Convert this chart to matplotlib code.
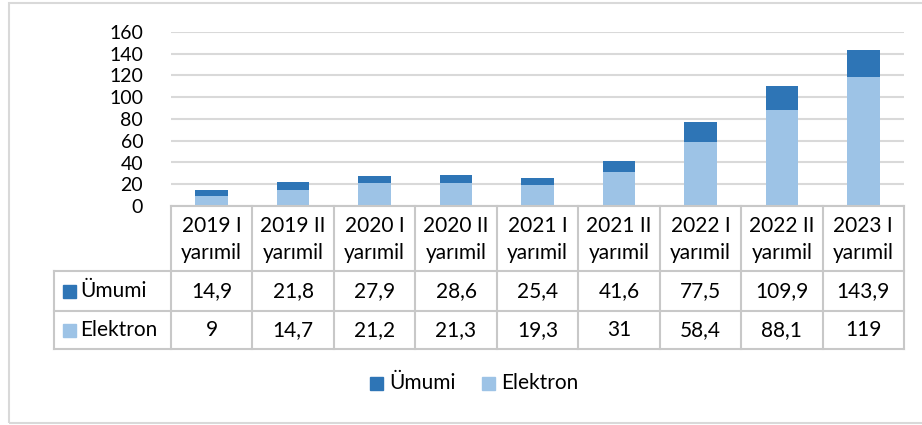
import numpy as np
import matplotlib.pyplot as plt
from matplotlib.patches import Rectangle
from matplotlib.lines import Line2D

plt.rcParams['font.family'] = ['Lato', 'DejaVu Sans']

periods = ["2019 I\nyarımil", "2019 II\nyarımil", "2020 I\nyarımil", "2020 II\nyarımil",
           "2021 I\nyarımil", "2021 II\nyarımil", "2022 I\nyarımil", "2022 II\nyarımil",
           "2023 I\nyarımil"]
umumi = [14.9, 21.8, 27.9, 28.6, 25.4, 41.6, 77.5, 109.9, 143.9]
elektron = [9, 14.7, 21.2, 21.3, 19.3, 31, 58.4, 88.1, 119]
umumi_txt = ["14,9", "21,8", "27,9", "28,6", "25,4", "41,6", "77,5", "109,9", "143,9"]
elektron_txt = ["9", "14,7", "21,2", "21,3", "19,3", "31", "58,4", "88,1", "119"]

dark = "#2E75B6"
light = "#9DC3E6"
grid_c = "#D9D9D9"
line_c = "#C8C8C8"
fs = 15

W, H = 922, 425
fig = plt.figure(figsize=(W / 100, H / 100), dpi=100)

def fx(px):
    return px / W

def fy(py):
    return 1 - py / H

# outer frame
fig.add_artist(Rectangle((fx(9), fy(423)), fx(930) - fx(9), fy(3) - fy(423),
                         transform=fig.transFigure, fill=False, edgecolor="#D9D9D9", lw=1.5))

x0, x1, y0, y1 = 171, 904, 206, 32
ax = fig.add_axes([fx(x0), fy(y0), fx(x1) - fx(x0), fy(y1) - fy(y0)])
x = np.arange(len(periods))
ax.bar(x, umumi, width=0.4, color=dark, zorder=2)
ax.bar(x, elektron, width=0.4, color=light, zorder=3)
ax.set_xlim(-0.5, len(periods) - 0.5)
ax.set_ylim(0, 160)
ax.set_yticks(range(0, 161, 20))
ax.yaxis.grid(True, color=grid_c, lw=1.5, zorder=0)
ax.set_xticks([])
ax.tick_params(axis='y', length=0, labelsize=14, pad=20)
for s in ax.spines.values():
    s.set_visible(False)

# data table
cw = (x1 - x0) / len(periods)
rows_y = [206, 271, 311, 349]
def hline(xa, xb, yy):
    fig.add_artist(Line2D([fx(xa), fx(xb)], [fy(yy), fy(yy)], color=line_c, lw=1.5))
def vline(xx, ya, yb):
    fig.add_artist(Line2D([fx(xx), fx(xx)], [fy(ya), fy(yb)], color=line_c, lw=1.5))

hline(x0, x1, rows_y[0])
for yy in rows_y[1:]:
    hline(54, x1, yy)
vline(54, rows_y[1], rows_y[3])
for i in range(len(periods) + 1):
    vline(x0 + i * cw, rows_y[0], rows_y[3])

for i, p in enumerate(periods):
    cx = x0 + (i + 0.5) * cw
    top, bot = p.split("\n")
    fig.text(fx(cx), fy(226), top, ha="center", va="center", fontsize=fs)
    fig.text(fx(cx), fy(253), bot, ha="center", va="center", fontsize=fs)
    fig.text(fx(cx), fy(291), umumi_txt[i], ha="center", va="center", fontsize=fs)
    fig.text(fx(cx), fy(330), elektron_txt[i], ha="center", va="center", fontsize=fs)

sq = 13
for yy, col, name in [(291, dark, "Ümumi"), (330, light, "Elektron")]:
    fig.add_artist(Rectangle((fx(63), fy(yy + sq / 2)), fx(sq), sq / H,
                             transform=fig.transFigure, color=col))
    fig.text(fx(80), fy(yy), name, ha="left", va="center", fontsize=fs)

# legend
for lx, col, name in [(370, dark, "Ümumi"), (482, light, "Elektron")]:
    fig.add_artist(Rectangle((fx(lx), fy(383 + sq / 2)), fx(sq), sq / H,
                             transform=fig.transFigure, color=col))
    fig.text(fx(lx + 19), fy(383), name, ha="left", va="center", fontsize=fs)

fig.savefig("out.png", dpi=100)
